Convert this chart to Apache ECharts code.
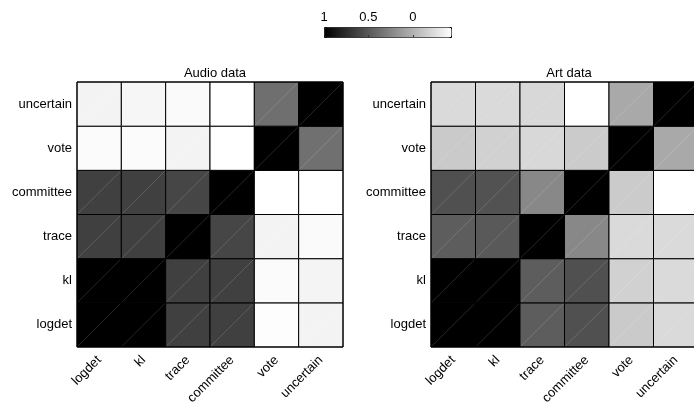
<!DOCTYPE html>
<html>
<head>
<meta charset="utf-8">
<script src="https://cdn.jsdelivr.net/npm/echarts@6/dist/echarts.min.js"></script>
<style>
  html, body { margin: 0; padding: 0; background: #fff; }
  #main { width: 694px; height: 403px; }
</style>
</head>
<body>
<div id="main"></div>
<script>
// methods, used for both axes (y goes bottom -> top)
const methods = ['logdet', 'kl', 'trace', 'committee', 'vote', 'uncertain'];

// rows = y category (logdet at bottom), cols = x category
const audioValues = [
  [1.00, 1.00, 0.64, 0.64, -0.42, -0.36],
  [1.00, 1.00, 0.64, 0.64, -0.41, -0.37],
  [0.64, 0.64, 1.00, 0.61, -0.36, -0.40],
  [0.64, 0.64, 0.61, 1.00, -0.43, -0.43],
  [-0.41, -0.41, -0.36, -0.43, 1.00, 0.37],
  [-0.36, -0.38, -0.40, -0.43, 0.38, 1.00]
];

const artValues = [
  [1.00, 1.00, 0.48, 0.55, -0.13, -0.22],
  [1.00, 1.00, 0.48, 0.55, -0.17, -0.22],
  [0.48, 0.50, 1.00, 0.24, -0.22, -0.22],
  [0.55, 0.54, 0.24, 1.00, -0.14, -0.43],
  [-0.13, -0.17, -0.21, -0.14, 1.00, 0.05],
  [-0.22, -0.22, -0.21, -0.43, 0.05, 1.00]
];

// colorbar tick labels
const colorTicks = [1, 0.5, 0];
const colorMin = -0.43;
const colorMax = 1;

function toCells(matrix) {
  const out = [];
  matrix.forEach(function (row, yi) {
    row.forEach(function (v, xi) {
      out.push([xi, yi, v]);
    });
  });
  return out;
}

const font = 'Liberation Sans, Arial, sans-serif';

function catX(gridIndex) {
  return {
    type: 'category',
    gridIndex: gridIndex,
    data: methods,
    axisLine: { show: false },
    axisTick: { show: false },
    splitLine: { show: false },
    axisLabel: {
      rotate: 45,
      margin: 11,
      interval: 0,
      color: '#000',
      fontSize: 13,
      fontFamily: font
    }
  };
}

function catY(gridIndex) {
  return {
    type: 'category',
    gridIndex: gridIndex,
    data: methods,
    axisLine: { show: false },
    axisTick: { show: false },
    splitLine: { show: false },
    axisLabel: {
      margin: 5,
      color: '#000',
      fontSize: 13,
      fontFamily: font
    }
  };
}

// cell with the faint diagonal seen in the original
function renderCell(params, api) {
  const c = api.coord([api.value(0), api.value(1)]);
  const s = api.size([1, 1]);
  const x0 = c[0] - s[0] / 2, y0 = c[1] - s[1] / 2;
  return {
    type: 'group',
    children: [
      {
        type: 'rect',
        shape: { x: x0, y: y0, width: s[0], height: s[1] },
        style: { fill: api.visual('color'), stroke: '#000', lineWidth: 1 }
      },
      {
        type: 'line',
        shape: { x1: x0 + 1, y1: y0 + s[1] - 1, x2: x0 + s[0] - 1, y2: y0 + 1 },
        style: { stroke: 'rgba(255,255,255,0.22)', lineWidth: 0.7 }
      }
    ]
  };
}

const chart = echarts.init(document.getElementById('main'), null, { renderer: 'canvas' });

const option = {
  backgroundColor: '#fff',
  animation: false,
  title: [
    {
      text: 'Audio data', left: 210, top: 62, textAlign: 'center',
      textStyle: { fontSize: 13, fontWeight: 'normal', color: '#000', fontFamily: font }
    },
    {
      text: 'Art data', left: 564, top: 62, textAlign: 'center',
      textStyle: { fontSize: 13, fontWeight: 'normal', color: '#000', fontFamily: font }
    }
  ],
  grid: [
    { left: 77, top: 82, width: 266, height: 265, outerBoundsMode: 'none', containLabel: false, show: true, borderColor: '#000', borderWidth: 1, backgroundColor: 'transparent', z: 5 },
    { left: 431, top: 82, width: 267, height: 265, outerBoundsMode: 'none', containLabel: false, show: true, borderColor: '#000', borderWidth: 1, backgroundColor: 'transparent', z: 5 },
    { left: 324, top: 27, width: 127, height: 10, outerBoundsMode: 'none', containLabel: false }
  ],
  xAxis: [
    catX(0),
    catX(1),
    {
      type: 'value', gridIndex: 2, min: colorMin, max: colorMax, inverse: true,
      position: 'top',
      axisLine: { show: false }, axisTick: { show: false }, splitLine: { show: false },
      axisLabel: { customValues: colorTicks, margin: 3, color: '#000', fontSize: 13, fontFamily: font }
    },
    {
      type: 'value', gridIndex: 2, min: colorMin, max: colorMax, inverse: true,
      position: 'bottom', z: 10,
      axisLine: { show: false }, splitLine: { show: false },
      axisLabel: { show: false },
      axisTick: { show: true, inside: true, length: 2, customValues: [0.5, 0], lineStyle: { color: '#333' } }
    }
  ],
  yAxis: [
    catY(0),
    catY(1),
    { type: 'value', gridIndex: 2, show: false, min: 0, max: 1 }
  ],
  visualMap: {
    type: 'continuous',
    seriesIndex: [0, 1],
    dimension: 2,
    min: colorMin,
    max: colorMax,
    orient: 'horizontal',
    inverse: true,
    left: 324,
    top: 27,
    itemWidth: 10,
    itemHeight: 127,
    padding: 0,
    calculable: false,
    showLabel: false,
    text: null,
    borderColor: '#000',
    borderWidth: 1,
    inRange: { color: ['#ffffff', '#000000'] }
  },
  series: [
    {
      type: 'custom',
      xAxisIndex: 0,
      yAxisIndex: 0,
      data: toCells(audioValues),
      encode: { x: 0, y: 1 },
      renderItem: renderCell,
      silent: true
    },
    {
      type: 'custom',
      xAxisIndex: 1,
      yAxisIndex: 1,
      data: toCells(artValues),
      encode: { x: 0, y: 1 },
      renderItem: renderCell,
      silent: true
    }
  ]
};

chart.setOption(option);
</script>
</body>
</html>
